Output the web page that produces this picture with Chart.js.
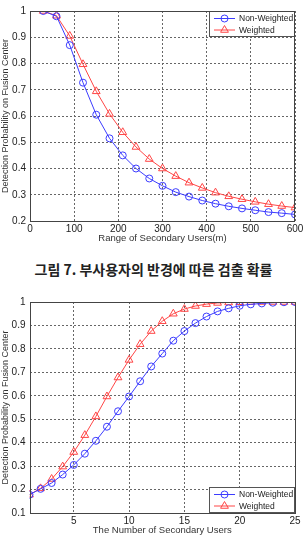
<!DOCTYPE html>
<html>
<head>
<meta charset="utf-8">
<script src="https://cdn.jsdelivr.net/npm/chart.js@4/dist/chart.umd.min.js"></script>
<style>
  body { margin: 0; background: #fff; }
  #wrap { position: relative; width: 307px; height: 537px; overflow: hidden; }
  .box { position: absolute; left: 0; width: 307px; }
  #caption { position: absolute; left: 0; top: 259px; width: 307px; text-align: center;
    font: bold 14px "Noto Sans CJK KR", sans-serif; line-height: 20px; color: #222; }
</style>
</head>
<body>
<div id="wrap">
  <div class="box" style="top:0;height:244px"><canvas id="rangeChart"></canvas></div>
  <div id="caption">그림 7. 부사용자의 반경에 따른 검출 확률</div>
  <div class="box" style="top:291px;height:245px"><canvas id="numberChart"></canvas></div>
</div>
<script>
// figure 7: detection probability vs range of secondary users
const rangeX = [30, 60, 90, 120, 150, 180, 210, 240, 270, 300, 330, 360, 390, 420, 450, 480, 510, 540, 570, 600];
const rangeNonWeighted = [1.0, 0.98, 0.87, 0.727, 0.605, 0.515, 0.45, 0.40, 0.362, 0.334, 0.31, 0.293, 0.278, 0.266, 0.256, 0.248, 0.241, 0.234, 0.230, 0.225];
const rangeWeighted = [1.0, 0.982, 0.905, 0.797, 0.694, 0.608, 0.538, 0.482, 0.436, 0.400, 0.371, 0.346, 0.326, 0.308, 0.294, 0.283, 0.273, 0.264, 0.257, 0.251];

// second figure: detection probability vs number of secondary users
const usersX = [1, 2, 3, 4, 5, 6, 7, 8, 9, 10, 11, 12, 13, 14, 15, 16, 17, 18, 19, 20, 21, 22, 23, 24, 25];
const usersNonWeighted = [0.178, 0.203, 0.228, 0.264, 0.305, 0.353, 0.408, 0.468, 0.534, 0.597, 0.662, 0.725, 0.780, 0.835, 0.876, 0.910, 0.938, 0.960, 0.973, 0.984, 0.990, 0.994, 0.997, 0.999, 1.0];
const usersWeighted = [0.178, 0.205, 0.245, 0.298, 0.360, 0.432, 0.512, 0.597, 0.678, 0.753, 0.820, 0.876, 0.918, 0.950, 0.970, 0.983, 0.991, 0.996, 0.998, 0.999, 1.0, 1.0, 1.0, 1.0, 1.0];
const usersTicks = [5, 10, 15, 20, 25];

const seriesNames = ['Non-Weighted', 'Weighted'];
const BLUE = 'rgb(60,60,255)';
const RED = 'rgb(255,70,70)';
const FONT = '"Liberation Sans", Arial, sans-serif';

function toPoints(xs, ys) {
    return xs.map((x, i) => ({ x: x, y: ys[i] }));
}

function drawMarker(ctx, style, x, y, r) {
    ctx.beginPath();
    if (style === 'circle') {
        ctx.arc(x, y, r, 0, Math.PI * 2);
    } else {
        ctx.moveTo(x, y - r);
        ctx.lineTo(x + r * 0.87, y + r * 0.5);
        ctx.lineTo(x - r * 0.87, y + r * 0.5);
        ctx.closePath();
    }
    ctx.stroke();
}

// matlab-style legend box inside the plot
const boxLegend = {
    id: 'boxLegend',
    afterDatasetsDraw(chart, args, opts) {
        const { ctx, chartArea: a } = chart;
        const w = 86, h = 26;
        const x = a.right - w;
        const y = opts.corner === 'bottom' ? a.bottom - h : a.top;
        ctx.save();
        ctx.fillStyle = '#fff';
        ctx.fillRect(x, y, w, h);
        ctx.strokeStyle = '#555';
        ctx.lineWidth = 1;
        ctx.strokeRect(x + 0.5, y + 0.5, w - 1, h - 1);
        chart.data.datasets.forEach((ds, i) => {
            const cy = y + 7.5 + i * 11.5;
            ctx.strokeStyle = ds.borderColor;
            ctx.beginPath();
            ctx.moveTo(x + 5, cy);
            ctx.lineTo(x + 26, cy);
            ctx.stroke();
            drawMarker(ctx, ds.pointStyle, x + 15.5, cy, ds.pointRadius);
            ctx.fillStyle = '#222';
            ctx.font = '8.5px ' + FONT;
            ctx.textBaseline = 'middle';
            ctx.fillText(ds.label, x + 30, cy + 0.5);
        });
        ctx.restore();
    }
};

const frame = {
    id: 'frame',
    afterDraw(chart) {
        const { ctx, chartArea: a } = chart;
        ctx.save();
        ctx.strokeStyle = '#444';
        ctx.lineWidth = 1;
        ctx.strokeRect(Math.round(a.left) + 0.5, Math.round(a.top) + 0.5,
            Math.round(a.right - a.left) - 1, Math.round(a.bottom - a.top));
        ctx.restore();
    }
};

function makeDatasets(xs, a, b) {
    return [
        {
            label: seriesNames[0], data: toPoints(xs, a),
            borderColor: BLUE, backgroundColor: 'transparent', borderWidth: 1,
            pointStyle: 'circle', pointRadius: 3.5, pointBorderWidth: 1, tension: 0
        },
        {
            label: seriesNames[1], data: toPoints(xs, b),
            borderColor: RED, backgroundColor: 'transparent', borderWidth: 1,
            pointStyle: 'triangle', pointRadius: 4.5, pointBorderWidth: 1, tension: 0
        }
    ];
}

function makeOptions(cfg) {
    return {
        responsive: true,
        maintainAspectRatio: false,
        animation: false,
        events: [],
        layout: { padding: { top: cfg.top, right: 12, left: 0, bottom: 0 } },
        plugins: {
            legend: { display: false },
            tooltip: { enabled: false },
            boxLegend: { corner: cfg.corner }
        },
        scales: {
            x: {
                type: 'linear',
                min: cfg.xMin, max: cfg.xMax,
                afterBuildTicks: cfg.xTicks ? (s) => { s.ticks = cfg.xTicks.map(v => ({ value: v })); } : undefined,
                ticks: { stepSize: cfg.xStep, color: '#222', font: { family: FONT, size: 10 }, padding: 2, maxRotation: 0 },
                grid: { color: '#666', drawTicks: false },
                border: { display: false, dash: [2, 2] },
                title: { display: true, text: cfg.xTitle, color: '#333', font: { family: FONT, size: 9.5 }, padding: 0 },
                afterFit: (s) => { s.height = cfg.xHeight; }
            },
            y: {
                min: cfg.yMin, max: 1,
                ticks: {
                    stepSize: 0.1, color: '#222', font: { family: FONT, size: 10 }, padding: 4,
                    callback: (v) => String(+v.toFixed(1))
                },
                grid: { color: '#666', drawTicks: false },
                border: { display: false, dash: [2, 2] },
                title: { display: true, text: 'Detection Probability on Fusion Center', color: '#333', font: { family: FONT, size: 9 }, padding: 0 },
                afterFit: (s) => { s.width = cfg.yWidth; }
            }
        }
    };
}

new Chart(document.getElementById('rangeChart').getContext('2d'), {
    type: 'line',
    data: { datasets: makeDatasets(rangeX, rangeNonWeighted, rangeWeighted) },
    options: makeOptions({
        top: 11, corner: 'top', xMin: 0, xMax: 600, xStep: 100,
        xTitle: 'Range of Secondary Users(m)', xHeight: 23, yMin: 0.2, yWidth: 30
    }),
    plugins: [boxLegend, frame]
});

new Chart(document.getElementById('numberChart').getContext('2d'), {
    type: 'line',
    data: { datasets: makeDatasets(usersX, usersNonWeighted, usersWeighted) },
    options: makeOptions({
        top: 11, corner: 'bottom', xMin: 1, xMax: 25, xTicks: usersTicks,
        xTitle: 'The Number of Secondary Users', xHeight: 23, yMin: 0.1, yWidth: 29.5
    }),
    plugins: [boxLegend, frame]
});
</script>
</body>
</html>
